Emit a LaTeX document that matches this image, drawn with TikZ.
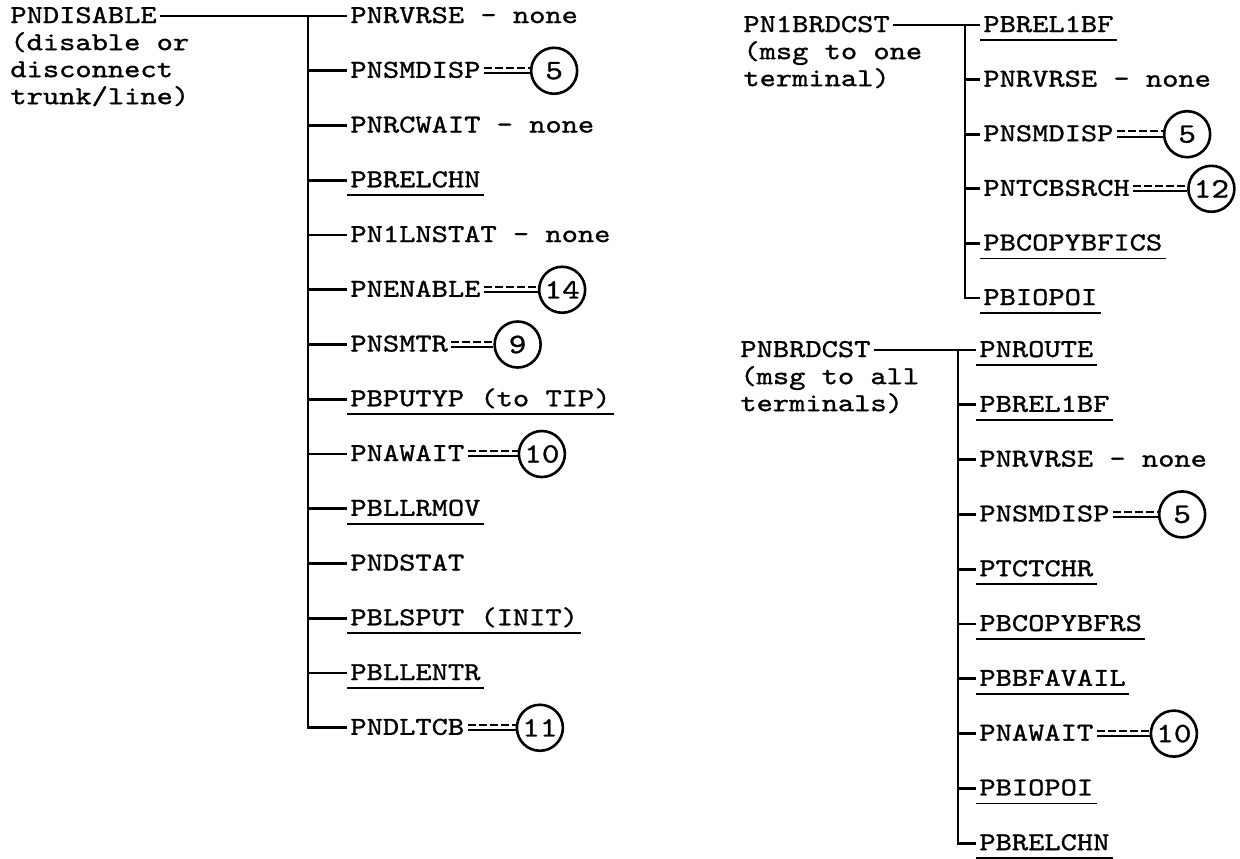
\documentclass[tikz,border=0pt]{standalone}
\usepackage{fontspec}
\setmonofont[FakeBold=1.1,FakeStretch=1.2]{lmmono10-regular.otf}
\usetikzlibrary{positioning}

\begin{document}
\begin{tikzpicture}[
  x=0.5pt, y=-0.5pt,
  every node/.style={font=\ttfamily\fontsize{12.9}{13.5}\selectfont,inner ysep=0pt,inner xsep=1.5pt},
  item/.style={anchor=west,text height=10pt,text depth=3pt},
  note/.style={align=left,anchor=north west},
  refno/.style={circle,draw,line width=1.3pt,minimum size=23pt,inner sep=0pt,font=\ttfamily\fontsize{14}{14}\selectfont},
  link/.style={line width=1.35pt},
  uline/.style={line width=0.9pt},
  twin/.style={line width=1pt}
]
\useasboundingbox (0,0) rectangle (1240,858);

% disable / disconnect
\node[item] (dis) at (7,16) {PNDISABLE};
\node[note,below right=1.2pt and 0pt of dis.south west] (disnote) {(disable or\\disconnect\\trunk/line)};
\foreach \lbl [count=\i from 0] in {PNRVRSE - none,PNSMDISP,PNRCWAIT - none,PBRELCHN,PN1LNSTAT - none,PNENABLE,PNSMTR,PBPUTYP (to TIP),PNAWAIT,PBLLRMOV,PNDSTAT,PBLSPUT (INIT),PBLLENTR,PNDLTCB}
  \node[item] (l\i) at (347,16+54.75*\i) {\lbl};
\coordinate (lbar) at (308,16);
\draw[link] (dis.east) -- (l0.west);
\draw[link] (lbar) |- (l13.west);
\foreach \i in {1,...,12}
  \draw[link] (lbar |- l\i.west) -- (l\i.west);
\node[refno,right=23pt of l1] (r5a) {5};
\node[refno,right=27pt of l5] (r14) {14};
\node[refno,right=21pt of l6] (r9) {9};
\node[refno,right=25pt of l8] (r10a) {10};
\node[refno,right=24pt of l13] (r11) {11};

% message to one terminal
\node[item] (one) at (740,25) {PN1BRDCST};
\node[note,below right=1.2pt and 0pt of one.south west] (onenote) {(msg to one\\terminal)};
\foreach \lbl [count=\i from 0] in {PBREL1BF,PNRVRSE - none,PNSMDISP,PNTCBSRCH,PBCOPYBFICS,PBIOPOI}
  \node[item] (a\i) at (980,25+54.6*\i) {\lbl};
\coordinate (abar) at (965,25);
\draw[link] (one.east) -- (a0.west);
\draw[link] (abar) |- (a5.west);
\foreach \i in {1,...,4}
  \draw[link] (abar |- a\i.west) -- (a\i.west);
\node[refno,right=23pt of a2] (r5b) {5};
\node[refno,right=27pt of a3] (r12) {12};

% message to all terminals
\node[item] (all) at (737,350) {PNBRDCST};
\node[note,below right=1.2pt and 0pt of all.south west] (allnote) {(msg to all\\terminals)};
\foreach \lbl [count=\i from 0] in {PNROUTE,PBREL1BF,PNRVRSE - none,PNSMDISP,PTCTCHR,PBCOPYBFRS,PBBFAVAIL,PNAWAIT,PBIOPOI,PBRELCHN}
  \node[item] (b\i) at (976,350+54.8*\i) {\lbl};
\coordinate (bbar) at (958,350);
\draw[link] (all.east) -- (b0.west);
\draw[link] (bbar) |- (b9.west);
\foreach \i in {1,...,8}
  \draw[link] (bbar |- b\i.west) -- (b\i.west);
\node[refno,right=22.5pt of b3] (r5c) {5};
\node[refno,right=26.5pt of b7] (r10b) {10};

% double links to the numbered circles
\foreach \a/\b in {l1/r5a,l5/r14,l6/r9,l8/r10a,l13/r11,a2/r5b,a3/r12,b3/r5c,b7/r10b} {
  \draw[twin,dash pattern=on 4pt off 1.5pt] ([yshift=1.4pt]\a.east) -- ([yshift=1.4pt]\b.west);
  \draw[twin] ([yshift=-1.2pt]\a.east) -- ([yshift=-1.2pt]\b.west);
}

% underlined names
\foreach \n in {l3,l7,l9,l11,l12,a0,a4,a5,b0,b1,b4,b5,b6,b8,b9}
  \draw[uline] ([yshift=-0.8pt]\n.south west) -- ([yshift=-0.8pt]\n.south east);
\end{tikzpicture}
\end{document}
